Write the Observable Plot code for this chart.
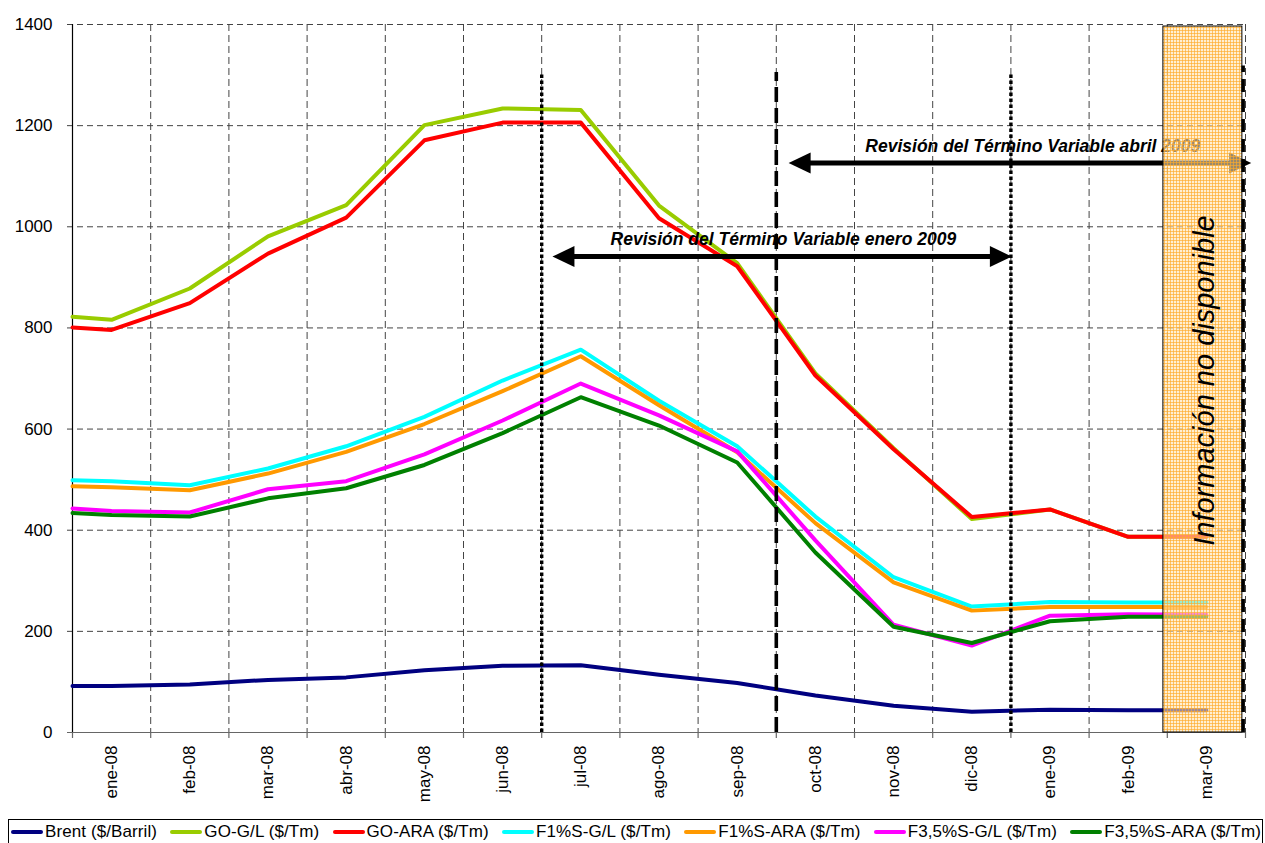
<!DOCTYPE html>
<html>
<head>
<meta charset="utf-8">
<script src="https://cdn.jsdelivr.net/npm/d3@7"></script>
<script src="https://cdn.jsdelivr.net/npm/@observablehq/plot@0.6"></script>
<style>
  body { margin: 0; background: #fff; font-family: "Liberation Sans", Arial, sans-serif; }
  #wrap { position: relative; width: 1265px; height: 843px; overflow: hidden; }
  #chart svg { display: block; }
  #legend { position: absolute; left: 8px; top: 819px; width: 1255px; height: 30px; border: 1px solid #000;
            box-sizing: border-box; display: flex; justify-content: space-between; align-items: flex-start;
            padding: 2px 1px 0 2px; background: #fff; }
  .item { display: flex; align-items: center; font-size: 17px; letter-spacing: 0.1px; white-space: nowrap; color: #000; }
  .sw { width: 32px; height: 4px; border-radius: 2px; margin-right: 2px; }
</style>
</head>
<body>
<div id="wrap"><div id="chart"></div><div id="legend"></div></div>
<script>
// ---- categories ----
const months = ["ene-08","feb-08","mar-08","abr-08","may-08","jun-08","jul-08","ago-08","sep-08","oct-08","nov-08","dic-08","ene-09","feb-09","mar-09"];

// ---- series values: first value = where the line meets the left axis, then one value per month ----
const brent  = [92, 92, 95, 104, 109, 123, 132, 133, 114, 98, 73, 53, 41, 45, 44, 44];
const goGL   = [822, 816, 878, 981, 1043, 1201, 1234, 1231, 1042, 928, 710, 562, 422, 441, 387, 387];
const goARA  = [801, 796, 849, 947, 1018, 1171, 1206, 1206, 1017, 922, 706, 560, 426, 441, 387, 387];
const f1GL   = [499, 497, 489, 522, 566, 624, 696, 757, 656, 566, 427, 307, 249, 258, 257, 257];
const f1ARA  = [487, 485, 479, 512, 555, 610, 675, 744, 647, 554, 414, 297, 241, 248, 248, 248];
const f35GL  = [443, 438, 435, 481, 497, 550, 617, 690, 627, 556, 380, 213, 172, 231, 234, 233];
const f35ARA = [434, 430, 427, 463, 483, 529, 592, 663, 607, 534, 356, 209, 177, 220, 229, 229];

const seriesNames  = ["Brent ($/Barril)", "GO-G/L ($/Tm)", "GO-ARA ($/Tm)", "F1%S-G/L ($/Tm)", "F1%S-ARA ($/Tm)", "F3,5%S-G/L ($/Tm)", "F3,5%S-ARA ($/Tm)"];
const seriesColors = ["#000080", "#99CC00", "#FF0000", "#00FFFF", "#FF9900", "#FF00FF", "#008000"];
const seriesValues = [brent, goGL, goARA, f1GL, f1ARA, f35GL, f35ARA];

// ---- axis ticks ----
const yTicks = [0, 200, 400, 600, 800, 1000, 1200, 1400];

// ---- annotations (in category units) ----
const dottedRules  = [6, 12];
const dashedRules  = [9];
const edgeRule     = [14.97];
const ruleTop      = 1305;
const edgeRuleTop  = 1318;
const arrowLabels  = ["Revisión del Término Variable enero 2009", "Revisión del Término Variable abril 2009"];
const arrowFrom    = [6.15, 9.17];
const arrowTo      = [12.0, 15.06];
const arrowLevel   = [941, 1126];
const arrowLabelAt = [9.09, 12.28];
const noDataLabel  = "Información no disponible";
const noDataFrom   = [13.95];
const noDataTo     = [14.96];
const noDataTop    = [1396];
const noDataLabelLevel = 696;

// ---- build table ----
const rows = seriesValues.flatMap((vals, s) =>
  vals.map((v, i) => ({series: seriesNames[s], x: i === 0 ? 0 : i - 0.5, y: v})));
const categoryCenters = months.map((m, i) => i + 0.5);
const boundaries = d3.range(0, months.length + 1);

const rightHead = {draw(ctx) { ctx.moveTo(1, 0); ctx.lineTo(-21, -10.5); ctx.lineTo(-21, 10.5); ctx.closePath(); }};
const leftHead  = {draw(ctx) { ctx.moveTo(-1, 0); ctx.lineTo(21, -10.5); ctx.lineTo(21, 10.5); ctx.closePath(); }};
const FONT = "'Liberation Sans', Arial, sans-serif";
const SENTINEL = "#fe9a01";

const plot = Plot.plot({
  width: 1265,
  height: 815,
  marginLeft: 72,
  marginRight: 20,
  marginTop: 24,
  marginBottom: 83,
  style: {fontFamily: FONT, background: "#fff", color: "#000"},
  x: {domain: [0, months.length], axis: null},
  y: {domain: [0, 1400], axis: null},
  marks: [
    // grid
    Plot.ruleY(yTicks.filter(d => d > 0), {stroke: "#444", strokeWidth: 1, strokeDasharray: "6,4", insetLeft: -5}),
    Plot.ruleX(boundaries.filter(d => d > 0), {stroke: "#444", strokeWidth: 1, strokeDasharray: "7,4"}),
    // axes
    Plot.ruleY([0], {stroke: "#666", strokeWidth: 1.2, insetLeft: -5}),
    Plot.ruleX(boundaries, {y1: 0, y2: 0, insetBottom: -6, stroke: "#666", strokeWidth: 1.2}),
    Plot.ruleX([0], {stroke: "#000", strokeWidth: 1.2}),
    Plot.text(yTicks, {x: 0, y: d => d, text: d => String(d), textAnchor: "end", dx: -20, fontSize: 17, fill: "#000"}),
    Plot.text(months, {x: (d, i) => categoryCenters[i], y: 0, text: d => d, rotate: -90, textAnchor: "end", dy: 13, fontSize: 17, fill: "#000"}),
    // data lines (Excel order: later series on top)
    ...seriesNames.map((name, s) =>
      Plot.line(rows.filter(r => r.series === name), {x: "x", y: "y", stroke: seriesColors[s], strokeWidth: 4, strokeLinejoin: "round"})),
    // revision period rules
    Plot.ruleX(dottedRules, {y1: 0, y2: ruleTop, stroke: "#000", strokeWidth: 3.4, strokeDasharray: "3.5,2.5"}),
    Plot.ruleX(dashedRules, {y1: 0, y2: ruleTop, stroke: "#000", strokeWidth: 3.6, strokeDasharray: "15,6"}),
    // arrows
    Plot.ruleY(arrowLevel, {x1: (d, i) => arrowFrom[i], x2: (d, i) => arrowTo[i], stroke: "#000", strokeWidth: 5, insetLeft: 16, insetRight: 16}),
    Plot.dot(arrowLevel, {x: (d, i) => arrowTo[i], y: d => d, symbol: rightHead, fill: "#000", stroke: "none", r: 8}),
    Plot.dot(arrowLevel, {x: (d, i) => arrowFrom[i], y: d => d, symbol: leftHead, fill: "#000", stroke: "none", r: 8}),
    Plot.text(arrowLabels, {x: (d, i) => arrowLabelAt[i], y: (d, i) => arrowLevel[i], text: d => d, dy: -17,
      fontWeight: "bold", fontStyle: "italic", fontSize: 17.5, fill: "#000"}),
    // no-data zone
    Plot.rect(noDataFrom, {x1: d => d, x2: (d, i) => noDataTo[i], y1: 0, y2: (d, i) => noDataTop[i], fill: SENTINEL, stroke: "#000", strokeWidth: 1}),
    Plot.text([noDataLabel], {x: categoryCenters[months.length - 1], y: noDataLabelLevel, text: d => d, rotate: -90,
      dx: -2, fontSize: 29, fontStyle: "italic", fill: "#000"}),
    Plot.ruleX(edgeRule, {y1: 0, y2: edgeRuleTop, stroke: "#000", strokeWidth: 3.5, strokeDasharray: "13,7"})
  ]
});

// hatch pattern for the no-data zone
const defs = d3.select(plot).insert("defs", ":first-child");
const pat = defs.append("pattern").attr("id", "hatch").attr("patternUnits", "userSpaceOnUse").attr("width", 3).attr("height", 3);
pat.append("rect").attr("width", 3).attr("height", 3).attr("fill", "#FFE4B4").attr("fill-opacity", 0.6);
pat.append("path").attr("d", "M0,0.5H3M0.5,0V3").attr("stroke", "#FFAA2A").attr("stroke-width", 1).attr("stroke-opacity", 0.65);
plot.querySelectorAll(`[fill="${SENTINEL}"]`).forEach(el => el.setAttribute("fill", "url(#hatch)"));

document.getElementById("chart").appendChild(plot);

// legend
const legend = d3.select("#legend");
seriesNames.forEach((name, s) => {
  const it = legend.append("div").attr("class", "item");
  it.append("div").attr("class", "sw").style("background", seriesColors[s]);
  it.append("span").text(name);
});
</script>
</body>
</html>
